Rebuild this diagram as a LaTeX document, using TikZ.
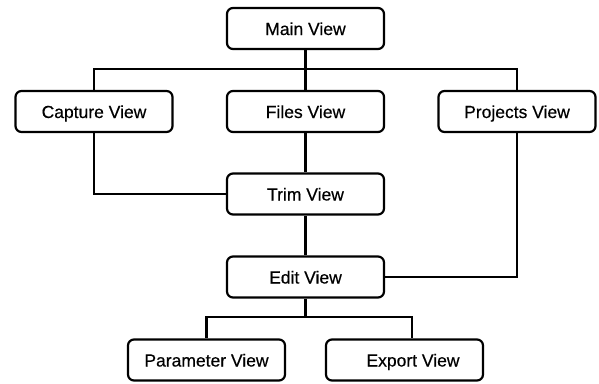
\documentclass[tikz,border=0pt]{standalone}
\usepackage{fontspec}
\setmainfont[FakeBold=0.4]{Liberation Sans}
\begin{document}
\begin{tikzpicture}[x=1pt,y=-1pt,
  viewbox/.style={draw, rounded corners=6pt, line width=2.2pt,
    minimum width=157pt, minimum height=41pt, inner sep=0pt,
    text height=13pt, text depth=0pt,
    font=\fontsize{17.5}{20}\selectfont},
  link/.style={line width=2.2pt}]
\useasboundingbox (0,0) rectangle (599,383);

% screens
\node[viewbox] (main)     at (305.5,28.5) {Main View};
\node[viewbox] (capture)  at (94,111.5)   {Capture View};
\node[viewbox] (files)    at (305.5,111.5) {Files View};
\node[viewbox] (projects) at (517,111.5)  {Projects View};
\node[viewbox] (trim)     at (305.5,194)  {Trim View};
\node[viewbox] (edit)     at (305.5,277)  {Edit View};
\node[viewbox] (param)    at (206.5,360)  {Parameter View};
\node[viewbox] (export)   at (404.5,360)  {\hspace*{17pt}Export View};

% bus rows and the export drop point
\coordinate (topbus) at (0,69);
\coordinate (lowbus) at (0,317);
\coordinate (exporttop) at (412,338);

% navigation links
\draw[link] (main) -- (files);
\draw[link] (capture.north) -- (capture.north |- topbus)
  -- (projects.north |- topbus) -- (projects.north);
\draw[link] (files) -- (trim);
\draw[link] (capture.south) |- (trim.west);
\draw[link] (trim) -- (edit);
\draw[link] (projects.south) |- (edit.east);
\draw[link] (edit.south) -- (edit.south |- lowbus);
\draw[link] (param.north) -- (param.north |- lowbus)
  -- (exporttop |- lowbus) -- (exporttop);
\end{tikzpicture}
\end{document}
